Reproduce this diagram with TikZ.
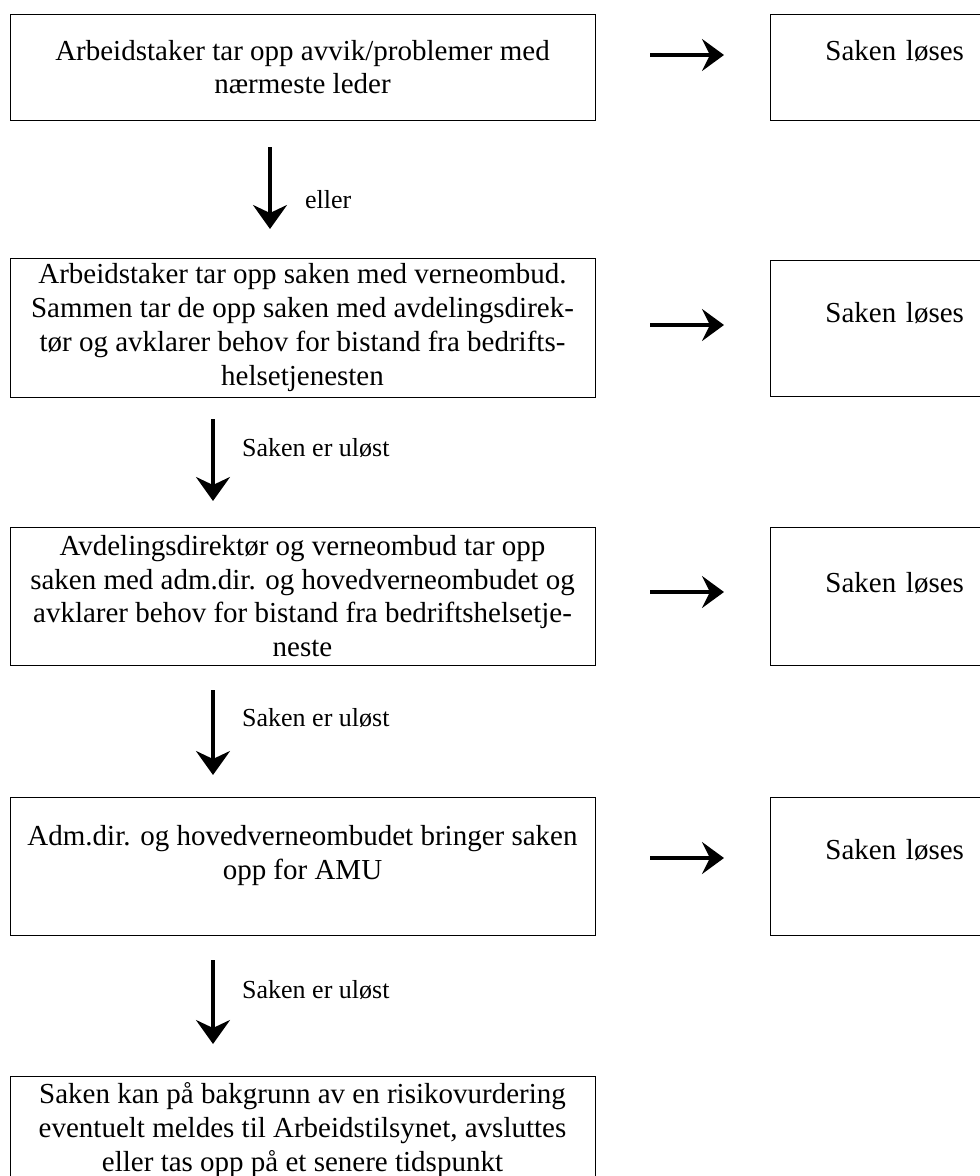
\documentclass[tikz,border=0pt]{standalone}
\usepackage{fontspec}
\setmainfont{Liberation Serif}
\usetikzlibrary{arrows.meta}
\begin{document}
\begin{tikzpicture}[x=1pt,y=-1pt,
  every node/.style={font=\fontsize{26}{33.5}\selectfont},
  boxfont/.style={font=\fontsize{29}{33.7}\selectfont},
  lbox/.style={boxfont, draw, line width=0.9pt, rectangle, minimum width=585pt, inner sep=0pt, align=center},
  rbox/.style={boxfont, draw, line width=0.9pt, rectangle, anchor=north west, minimum width=260pt, inner ysep=0pt, inner xsep=0pt, align=left},
  flow/.style={line width=3.5pt, -{Stealth[length=24pt, width=34pt, inset=8pt]}},
  side/.style={line width=3.5pt, -{Stealth[length=22pt, width=32pt, inset=8pt]}},
  lbl/.style={anchor=west, inner sep=0pt}]
\useasboundingbox (0,0) rectangle (980,1176);
\clip (0,0) rectangle (980,1176);
% left boxes
\node[lbox, minimum height=106pt] (b1) at (302.5,67) {Arbeidstaker tar opp avvik/problemer med\\nærmeste leder};
\node[lbox, minimum height=139pt] (b2) at (302.5,327.5) {Arbeidstaker tar opp saken med verneombud.\\Sammen tar de opp saken med avdelingsdirek-\\tør og avklarer behov for bistand fra bedrifts-\\helsetjenesten};
\node[lbox, minimum height=138pt] (b3) at (302.5,596) {Avdelingsdirektør og verneombud tar opp\\saken med adm.dir. og hovedverneombudet og\\avklarer behov for bistand fra bedriftshelsetje-\\neste};
\node[lbox, minimum height=138pt] (b4) at (302.5,866) {Adm.dir. og hovedverneombudet bringer saken\\opp for AMU\\[-6pt]};
\node[lbox, minimum height=138pt, anchor=north] (b5) at (302.5,1076) {Saken kan på bakgrunn av en risikovurdering\\eventuelt meldes til Arbeidstilsynet, avsluttes\\eller tas opp på et senere tidspunkt\\[3pt]};
% right boxes
\node[rbox, minimum height=106pt, text height=46pt, text depth=60pt, inner xsep=55pt, text width=200pt] (r1) at (770,14) {Saken løses};
\node[rbox, minimum height=136pt, text height=62pt, text depth=74pt, inner xsep=55pt, text width=200pt] (r2) at (770,260) {Saken løses};
\node[rbox, minimum height=138pt, text height=65pt, text depth=73pt, inner xsep=55pt, text width=200pt] (r3) at (770,527) {Saken løses};
\node[rbox, minimum height=138pt, text height=62pt, text depth=76pt, inner xsep=55pt, text width=200pt] (r4) at (770,797) {Saken løses};
% side arrows
\coordinate (s1a) at (650,55); \coordinate (s1b) at (724,55);
\coordinate (s2a) at (650,325); \coordinate (s2b) at (724,325);
\coordinate (s3a) at (650,592); \coordinate (s3b) at (724,592);
\coordinate (s4a) at (650,858); \coordinate (s4b) at (724,858);
\draw[side] (s1a) -- (s1b);
\draw[side] (s2a) -- (s2b);
\draw[side] (s3a) -- (s3b);
\draw[side] (s4a) -- (s4b);
% down arrows
\coordinate (d1a) at (270,147); \coordinate (d1b) at (270,229);
\coordinate (d2a) at (213,419); \coordinate (d2b) at (213,501);
\coordinate (d3a) at (213,690); \coordinate (d3b) at (213,775);
\coordinate (d4a) at (213,960); \coordinate (d4b) at (213,1044);
\draw[flow] (d1a) -- (d1b);
\draw[flow] (d2a) -- (d2b);
\draw[flow] (d3a) -- (d3b);
\draw[flow] (d4a) -- (d4b);
\node[lbl] (l1) at (305,200) {eller};
\node[lbl] (l2) at (242,448) {Saken er uløst};
\node[lbl] (l3) at (242,718) {Saken er uløst};
\node[lbl] (l4) at (242,990) {Saken er uløst};
\end{tikzpicture}
\end{document}
